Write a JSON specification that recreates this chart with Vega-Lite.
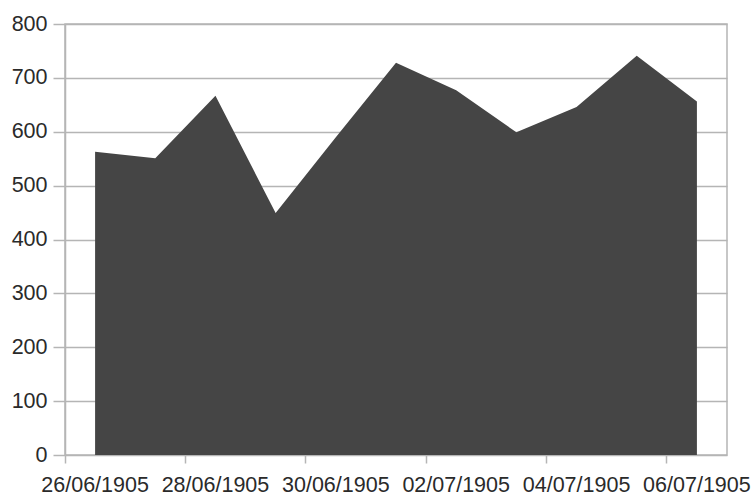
{
  "$schema": "https://vega.github.io/schema/vega-lite/v6.json",
  "autosize": {"type": "none"},
  "width": 662,
  "height": 431,
  "padding": {"left": 65, "top": 24, "right": 25, "bottom": 41},
  "background": "white",
  "config": {
    "view": {"stroke": "#b5b5b5", "strokeWidth": 1.5},
    "font": "Liberation Sans"
  },
  "data": {
    "values": [
      {"date": "26/06/1905", "value": 563},
      {"date": "27/06/1905", "value": 551},
      {"date": "28/06/1905", "value": 667},
      {"date": "29/06/1905", "value": 449},
      {"date": "30/06/1905", "value": 590},
      {"date": "01/07/1905", "value": 728},
      {"date": "02/07/1905", "value": 677},
      {"date": "03/07/1905", "value": 599},
      {"date": "04/07/1905", "value": 646},
      {"date": "05/07/1905", "value": 741},
      {"date": "06/07/1905", "value": 656}
    ]
  },
  "mark": {"type": "area", "color": "#454545", "opacity": 1},
  "encoding": {
    "x": {
      "field": "date",
      "type": "ordinal",
      "sort": null,
      "bandPosition": 0.5,
      "scale": {"type": "band", "paddingInner": 0, "paddingOuter": 0},
      "axis": {
        "title": null,
        "values": ["26/06/1905", "28/06/1905", "30/06/1905", "02/07/1905", "04/07/1905", "06/07/1905"],
        "bandPosition": 0,
        "labelOffset": 0,
        "labelAngle": 0,
        "labelFontSize": 21.5,
        "labelColor": "#2a2a2a",
        "labelPadding": 11,
        "tickSize": 8,
        "tickColor": "#b5b5b5",
        "tickWidth": 1.5,
        "domain": false,
        "grid": false
      }
    },
    "y": {
      "field": "value",
      "type": "quantitative",
      "scale": {"domain": [0, 800], "nice": false},
      "axis": {
        "title": null,
        "values": [0, 100, 200, 300, 400, 500, 600, 700, 800],
        "labelFontSize": 21.5,
        "labelColor": "#2a2a2a",
        "labelPadding": 6,
        "tickSize": 12,
        "tickColor": "#b5b5b5",
        "tickWidth": 1.5,
        "domainColor": "#b5b5b5",
        "domainWidth": 1.5,
        "gridColor": "#b5b5b5",
        "gridWidth": 1.5,
        "gridOpacity": 1
      }
    }
  }
}
